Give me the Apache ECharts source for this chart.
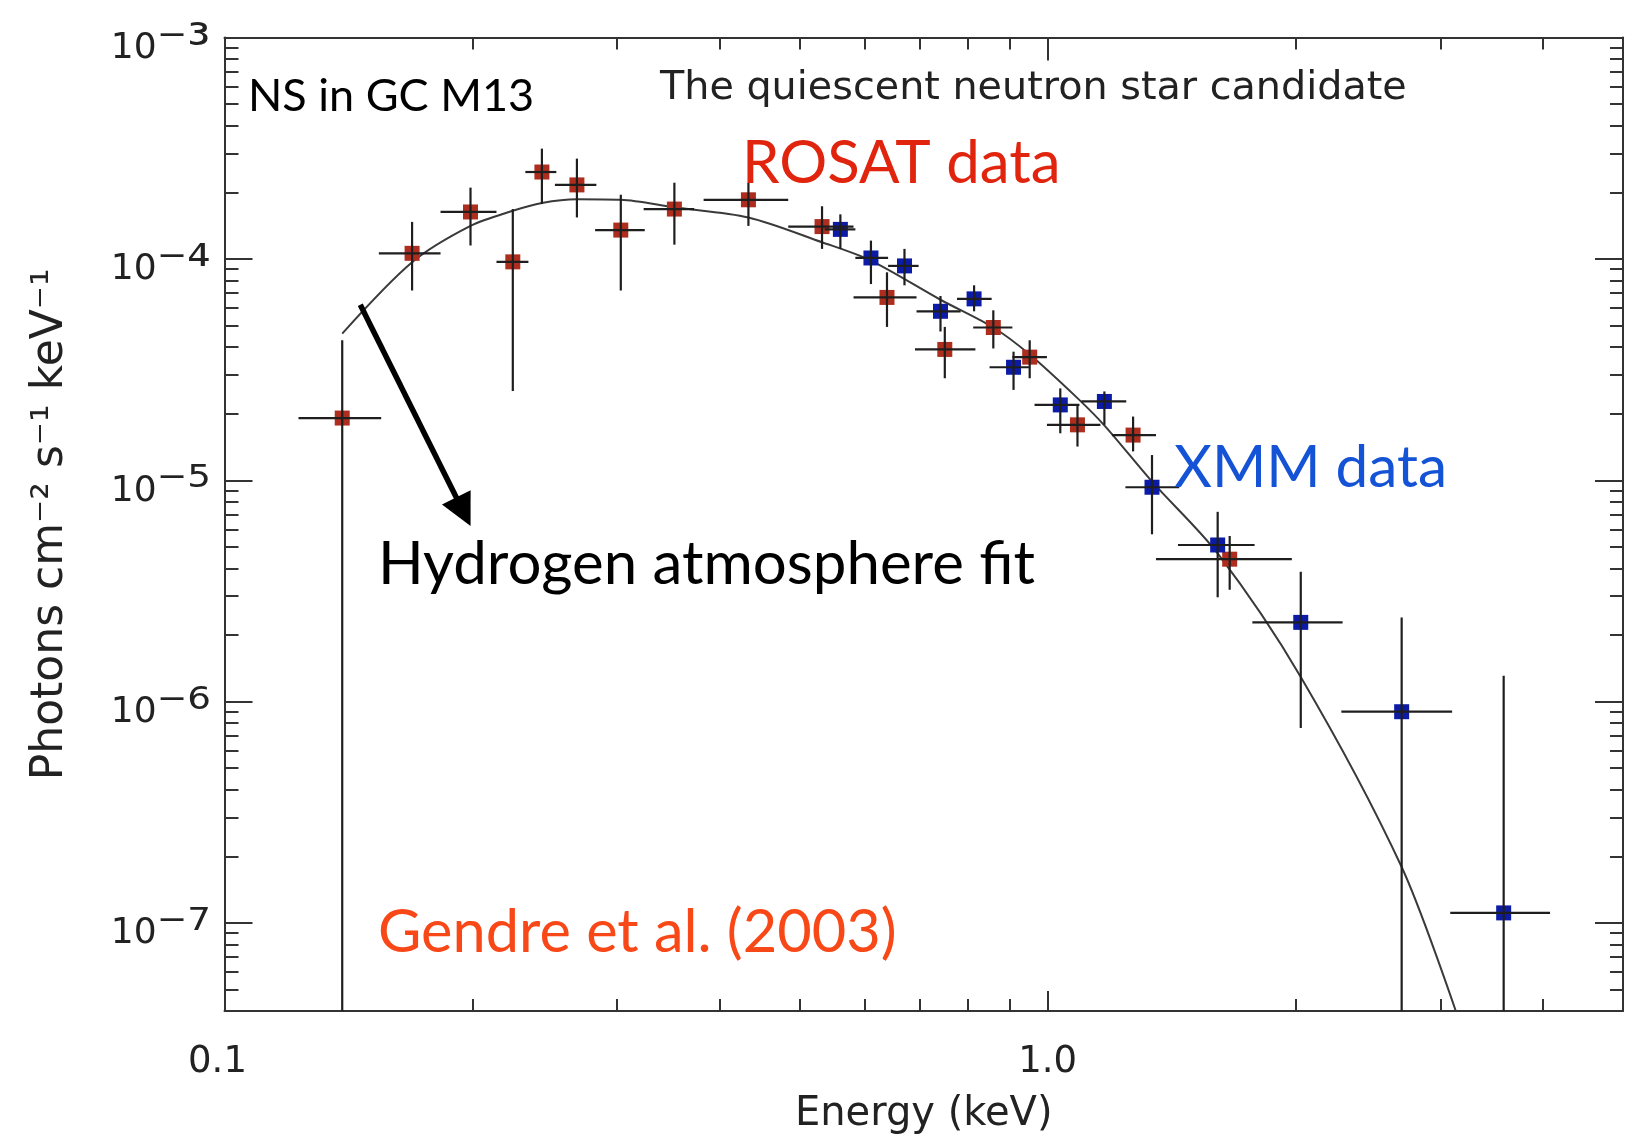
<!DOCTYPE html>
<html><head><meta charset="utf-8">
<script src="https://cdn.jsdelivr.net/npm/echarts@6/dist/echarts.min.js"></script>
<style>html,body{margin:0;padding:0;background:#fff}#c{width:1637px;height:1140px}</style>
</head><body><div id="c"></div>
<script>
// ROSAT data (red)
const rosatE   = [0.139, 0.169, 0.199, 0.224, 0.243, 0.268, 0.303, 0.352, 0.433, 0.532, 0.638, 0.750, 0.859, 0.951, 1.087, 1.270, 1.664];
const rosatF   = [1.91e-5, 1.06e-4, 1.63e-4, 9.7e-5, 2.47e-4, 2.16e-4, 1.35e-4, 1.68e-4, 1.85e-4, 1.40e-4, 6.7e-5, 3.9e-5, 4.9e-5, 3.6e-5, 1.78e-5, 1.6e-5, 4.4e-6];
const rosatElo = [0.123, 0.154, 0.183, 0.214, 0.232, 0.252, 0.282, 0.323, 0.382, 0.484, 0.581, 0.690, 0.812, 0.906, 0.998, 1.197, 1.354];
const rosatEhi = [0.155, 0.183, 0.214, 0.234, 0.253, 0.283, 0.324, 0.372, 0.484, 0.581, 0.693, 0.817, 0.906, 0.998, 1.159, 1.354, 1.980];
const rosatFlo = [1e-9, 7.2e-5, 1.15e-4, 2.53e-5, 1.77e-4, 1.54e-4, 7.2e-5, 1.16e-4, 1.41e-4, 1.11e-4, 4.93e-5, 2.89e-5, 3.94e-5, 2.89e-5, 1.42e-5, 1.35e-5, 3.2e-6];
const rosatFhi = [4.29e-5, 1.47e-4, 2.10e-4, 1.68e-4, 3.15e-4, 2.84e-4, 1.95e-4, 2.21e-4, 2.21e-4, 1.73e-4, 8.7e-5, 4.93e-5, 5.86e-5, 4.29e-5, 2.19e-5, 1.94e-5, 5.6e-6];
// XMM data (blue)
const xmmE   = [0.560, 0.610, 0.670, 0.741, 0.814, 0.909, 1.036, 1.172, 1.339, 1.609, 2.030, 2.692, 3.581];
const xmmF   = [1.36e-4, 1.01e-4, 9.3e-5, 5.8e-5, 6.6e-5, 3.24e-5, 2.19e-5, 2.27e-5, 9.3e-6, 5.1e-6, 2.28e-6, 9.0e-7, 1.11e-7];
const xmmElo = [0.536, 0.584, 0.640, 0.693, 0.776, 0.850, 0.964, 1.099, 1.243, 1.440, 1.773, 2.274, 3.084];
const xmmEhi = [0.584, 0.640, 0.697, 0.784, 0.855, 0.951, 1.093, 1.246, 1.445, 1.784, 2.282, 3.100, 4.077];
const xmmFlo = [1.11e-4, 7.7e-5, 7.6e-5, 4.7e-5, 5.8e-5, 2.56e-5, 1.63e-5, 1.78e-5, 5.7e-6, 2.96e-6, 7.6e-7, 1e-9, 1e-9];
const xmmFhi = [1.59e-4, 1.21e-4, 1.11e-4, 6.8e-5, 7.6e-5, 3.81e-5, 2.6e-5, 2.52e-5, 1.30e-5, 7.2e-6, 3.86e-6, 2.40e-6, 1.31e-6];
// Hydrogen atmosphere fit
const fitE = [0.139, 0.169, 0.199, 0.224, 0.243, 0.268, 0.303, 0.352, 0.433, 0.532, 0.610, 0.741, 0.859, 0.951, 1.087, 1.174, 1.340, 1.609, 2.030, 2.692, 3.132];
const fitF = [4.6e-5, 9.66e-5, 1.41e-4, 1.65e-4, 1.79e-4, 1.86e-4, 1.85e-4, 1.71e-4, 1.54e-4, 1.19e-4, 9.83e-5, 6.54e-5, 4.90e-5, 3.70e-5, 2.35e-5, 1.757e-5, 9.83e-6, 4.67e-6, 1.293e-6, 1.79e-7, 4.0e-8];
// arrow annotation (start, end) in data coords
const arrowE = [0.1462, 0.1951];
const arrowF = [6.21e-5, 7.21e-6];
// axes
const xMin = 0.1, xMax = 5;
const yMin = 4e-8, yMax = 1e-3;
const xMajorTicks = [0.1, 1];
const xMinorTicks = [0.2, 0.3, 0.4, 0.5, 0.6, 0.7, 0.8, 0.9, 2, 3, 4];
const xTickLabels = ['0.1', '1.0'];
const yMajorTicks = [1e-7, 1e-6, 1e-5, 1e-4, 1e-3];
const yMinorTicks = [5e-8, 6e-8, 7e-8, 8e-8, 9e-8,
  2e-7, 3e-7, 4e-7, 5e-7, 6e-7, 7e-7, 8e-7, 9e-7,
  2e-6, 3e-6, 4e-6, 5e-6, 6e-6, 7e-6, 8e-6, 9e-6,
  2e-5, 3e-5, 4e-5, 5e-5, 6e-5, 7e-5, 8e-5, 9e-5,
  2e-4, 3e-4, 4e-4, 5e-4, 6e-4, 7e-4, 8e-4, 9e-4];

const zip = (...arrs) => arrs[0].map((_, i) => arrs.map(a => a[i]));
const AX = '#333';
const LBL = '#222';
const IDL = 'DejaVu Sans';
const SUP = { '0': '\u2070', '1': '\u00b9', '2': '\u00b2', '3': '\u00b3', '4': '\u2074', '5': '\u2075', '6': '\u2076', '7': '\u2077', '8': '\u2078', '9': '\u2079' };

function errRender(params, api) {
  const cs = params.coordSys;
  const e = api.value(0), f = api.value(1);
  const c = api.coord([e, f]);
  const l = api.coord([api.value(2), f]);
  const r = api.coord([api.value(3), f]);
  const b = api.coord([e, api.value(4)]);
  const t = api.coord([e, api.value(5)]);
  const bottom = cs.y + cs.height;
  const st = { stroke: '#1e1e1e', lineWidth: 2.2 };
  return { type: 'group', children: [
    { type: 'line', shape: { x1: l[0], y1: c[1], x2: r[0], y2: c[1] }, style: st },
    { type: 'line', shape: { x1: c[0], y1: Math.max(t[1], cs.y), x2: c[0], y2: Math.min(b[1], bottom) }, style: st }
  ]};
}

function xAxisDef(pos, ticks, len, withLine, withLabels) {
  return {
    type: 'log', logBase: 10, position: pos, min: xMin, max: xMax, gridIndex: 0,
    axisLine: { show: withLine, lineStyle: { color: AX, width: 2 } },
    axisTick: { show: true, inside: true, length: len, customValues: ticks, lineStyle: { color: AX, width: 2 } },
    axisLabel: withLabels ? {
      show: true, customValues: xMajorTicks, margin: 33,
      formatter: v => {
        const i = xMajorTicks.findIndex(t => Math.abs(t - v) / t < 1e-6);
        if (i < 0) return '';
        return i === 0 ? '{l|' + xTickLabels[i] + '}' : '{m|' + xTickLabels[i] + '}';
      },
      rich: {
        l: { fontFamily: IDL, fontSize: 37, color: LBL, padding: [0, 14, 0, 0] },
        m: { fontFamily: IDL, fontSize: 37, color: LBL }
      },
      fontFamily: IDL, fontSize: 37, color: LBL
    } : { show: false },
    splitLine: { show: false }, minorTick: { show: false },
    name: withLabels ? 'Energy (keV)' : '', nameLocation: 'middle', nameGap: 84,
    nameTextStyle: { fontFamily: IDL, fontSize: 40, color: LBL }
  };
}
function yAxisDef(pos, ticks, len, withLine, withLabels) {
  return {
    type: 'log', logBase: 10, position: pos, min: yMin, max: yMax, gridIndex: 0,
    axisLine: { show: withLine, lineStyle: { color: AX, width: 2 } },
    axisTick: { show: true, inside: true, length: len, customValues: ticks, lineStyle: { color: AX, width: 2 } },
    axisLabel: withLabels ? {
      show: true, customValues: yMajorTicks, margin: 14, padding: [22, 0, 0, 0],
      formatter: v => '{b|10}{s|\u207b' + SUP[String(-Math.round(Math.log10(v)))] + '}',
      rich: {
        b: { fontFamily: IDL, fontSize: 36, color: LBL },
        s: { fontFamily: IDL, fontSize: 58, color: LBL }
      }
    } : { show: false },
    splitLine: { show: false }, minorTick: { show: false },
    name: withLabels ? 'Photons cm\u207b\u00b2 s\u207b\u00b9 keV\u207b\u00b9' : '',
    nameLocation: 'middle', nameRotate: 90, nameGap: 152,
    nameTextStyle: { fontFamily: IDL, fontSize: 44, color: LBL }
  };
}

const chart = echarts.init(document.getElementById('c'), null, { renderer: 'canvas' });
chart.setOption({
  animation: false,
  backgroundColor: '#fff',
  grid: { left: 224.5, right: 14, top: 37.6, bottom: 124.2, containLabel: false },
  xAxis: [
    xAxisDef('bottom', xMajorTicks, 20, true, true),
    xAxisDef('bottom', xMinorTicks, 12, false, false),
    xAxisDef('top', [1], 23, true, false),
    xAxisDef('top', xMinorTicks, 12, false, false)
  ],
  yAxis: [
    yAxisDef('left', yMajorTicks, 28, true, true),
    yAxisDef('left', yMinorTicks, 14, false, false),
    yAxisDef('right', yMajorTicks, 28, true, false),
    yAxisDef('right', yMinorTicks, 13, false, false)
  ],
  series: [
    {
      name: 'Hydrogen atmosphere fit', type: 'line', xAxisIndex: 0, yAxisIndex: 0,
      data: zip(fitE, fitF), showSymbol: false, smooth: 0.3, clip: true, z: 2,
      lineStyle: { color: '#3a3a3a', width: 2 },
      markLine: {
        silent: true, symbol: ['none', 'triangle'], symbolSize: 32,
        label: { show: false },
        itemStyle: { color: '#000' },
        lineStyle: { color: '#000', width: 5.5, type: 'solid' },
        data: [[{ coord: [arrowE[0], arrowF[0]] }, { coord: [arrowE[1], arrowF[1]] }]]
      }
    },
    {
      name: 'ROSAT markers', type: 'scatter', xAxisIndex: 0, yAxisIndex: 0,
      data: zip(rosatE, rosatF), symbol: 'rect', symbolSize: 15, z: 3,
      itemStyle: { color: '#ad2e1e', opacity: 1 }
    },
    {
      name: 'XMM markers', type: 'scatter', xAxisIndex: 0, yAxisIndex: 0,
      data: zip(xmmE, xmmF), symbol: 'rect', symbolSize: 15, z: 4,
      itemStyle: { color: '#0c1ba6', opacity: 1 }
    },
    {
      name: 'ROSAT errors', type: 'custom', xAxisIndex: 0, yAxisIndex: 0, z: 5,
      renderItem: errRender, encode: { x: 0, y: 1 },
      data: zip(rosatE, rosatF, rosatElo, rosatEhi, rosatFlo, rosatFhi)
    },
    {
      name: 'XMM errors', type: 'custom', xAxisIndex: 0, yAxisIndex: 0, z: 5,
      renderItem: errRender, encode: { x: 0, y: 1 },
      data: zip(xmmE, xmmF, xmmElo, xmmEhi, xmmFlo, xmmFhi)
    }
  ],
  graphic: [
    { type: 'text', x: 248, y: 96, z: 10, style: { text: 'NS in GC M13', font: '45px Lato', fill: '#000', textAlign: 'left', textVerticalAlign: 'middle', align: 'left', verticalAlign: 'middle' } },
    { type: 'text', x: 660, y: 89, z: 10, style: { text: 'The quiescent neutron star candidate', font: '39.7px "DejaVu Sans"', fill: '#222', textAlign: 'left', textVerticalAlign: 'middle', align: 'left', verticalAlign: 'middle' } },
    { type: 'text', x: 742, y: 164, z: 10, style: { text: 'ROSAT data', font: '60px Lato', fill: '#e0240e', textAlign: 'left', textVerticalAlign: 'middle', align: 'left', verticalAlign: 'middle' } },
    { type: 'text', x: 1174, y: 468, z: 10, style: { text: 'XMM data', font: '58.5px Lato', fill: '#1452d6', textAlign: 'left', textVerticalAlign: 'middle', align: 'left', verticalAlign: 'middle' } },
    { type: 'text', x: 378, y: 565, z: 10, style: { text: 'Hydrogen atmosphere fit', font: '60px Lato', fill: '#000', textAlign: 'left', textVerticalAlign: 'middle', align: 'left', verticalAlign: 'middle' } },
    { type: 'text', x: 378, y: 933, z: 10, style: { text: 'Gendre et al. (2003)', font: '59.5px Lato', fill: '#f84818', textAlign: 'left', textVerticalAlign: 'middle', align: 'left', verticalAlign: 'middle' } }
  ]
});
</script></body></html>
